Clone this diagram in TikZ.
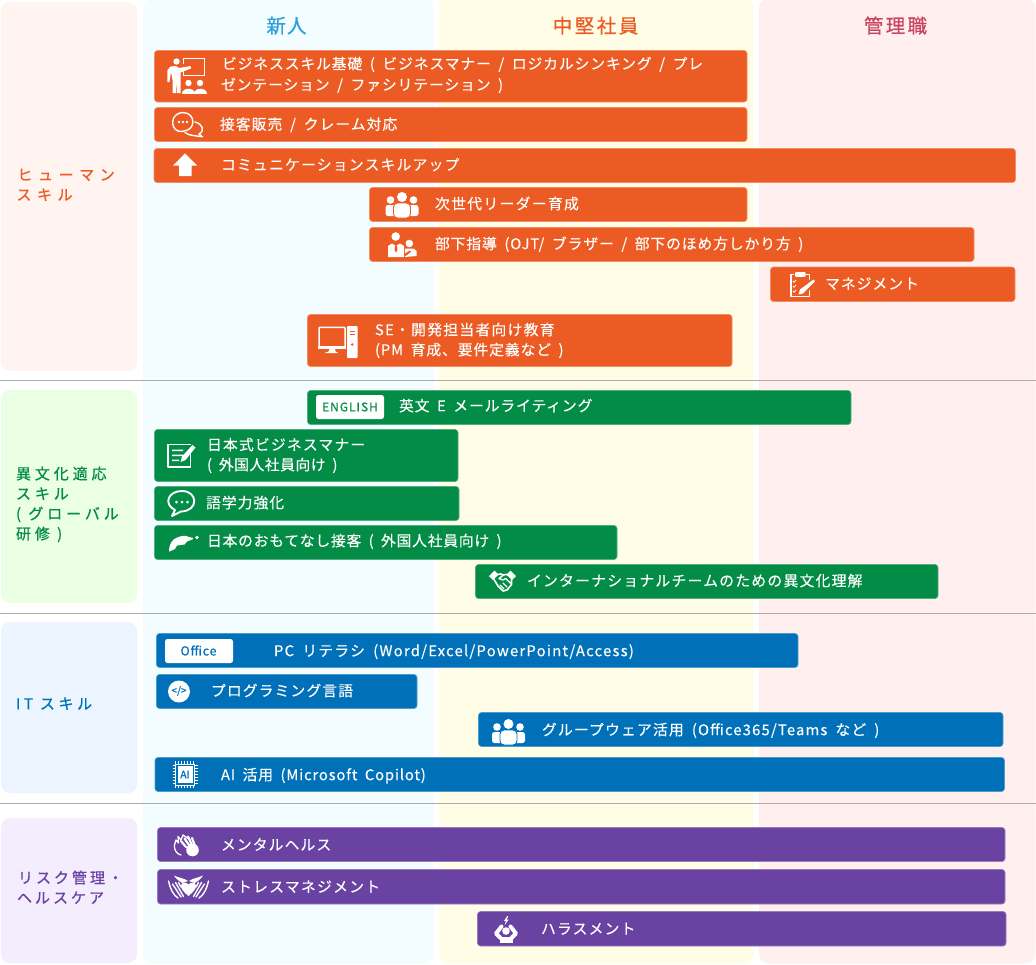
\documentclass[tikz,border=0pt]{standalone}
\usepackage{fontspec}
\setmainfont{Noto Sans CJK JP}[FakeBold=0.3,WordSpace=1.8]
\newfontfamily\jphead{Noto Sans CJK JP}[FakeBold=0.7]
\definecolor{cOrange}{HTML}{EB5B23}
\definecolor{cGreen}{HTML}{038C45}
\definecolor{cBlue}{HTML}{0071B9}
\definecolor{cPurple}{HTML}{6A42A2}
\definecolor{cHeadA}{HTML}{2FA0DC}
\definecolor{cHeadC}{HTML}{C8455F}
\definecolor{colA}{HTML}{F3FCFF}
\definecolor{colB}{HTML}{FFFDE6}
\definecolor{colC}{HTML}{FFF0EF}
\definecolor{rowA}{HTML}{FFF4F0}
\definecolor{rowB}{HTML}{EBFFE3}
\definecolor{rowC}{HTML}{ECF5FF}
\definecolor{rowD}{HTML}{F4EDFD}
\tikzset{
  boxbase/.style={inner sep=0pt,outer sep=0pt},
  panel/.style={boxbase,rounded corners=9pt},
  barbox/.style={boxbase,rounded corners=3pt,line width=0.6pt},
  whitebadge/.style={boxbase,rounded corners=2.5pt,fill=white},
  lab/.style={anchor=base west,inner sep=0pt,outer sep=0pt,text=white,font=\fontsize{14.8}{16}\selectfont},
  rowlab/.style={anchor=base west,inner sep=0pt,outer sep=0pt,font=\jphead\fontsize{15}{17}\selectfont},
  headlab/.style={anchor=base,inner sep=0pt,outer sep=0pt,font=\jphead\fontsize{19.5}{22}\selectfont},
  sepline/.style={draw=black!32,line width=1pt},
  wline/.style={draw=white,line width=1.3pt,line cap=round,line join=round},
}
% box from corners
\newcommand{\pbox}[6]{\node[#6,minimum width={(#4-#2)*1pt},minimum height={(#5-#3)*1pt}] (#1) at ({(#2+#4)/2},{(#3+#5)/2}) {};}
\newcommand{\bbox}[6]{\pbox{#1}{#2}{#3}{#4}{#5}{barbox,fill=#6,draw=#6!70!white}}
\newcommand{\lbl}[5]{\node[lab] (#1) at (#2,{#3+5.2}) {\addfontfeature{LetterSpace=#4}#5};}
\newcommand{\rlbl}[6]{\node[rowlab,text=#6] (#1) at (#2,{#3+5.3}) {\addfontfeature{LetterSpace=#4}#5};}
% people icon
\newcommand{\peopleicon}[3]{\begin{scope}[shift={(#1,#2)}]
  \fill[white] (-11.5,-4) circle (3.8) (11.5,-4) circle (3.8);
  \fill[white,rounded corners=2.5pt] (-16.5,1) rectangle (-5,12);
  \fill[white,rounded corners=2.5pt] (5,1) rectangle (16.5,12);
  \fill[white] (0,-7) circle (5);
  \filldraw[fill=white,draw=#3,line width=0.9pt,rounded corners=4pt] (-8.5,14) -- (-8.5,-1) -- (8.5,-1) -- (8.5,14) -- cycle;
\end{scope}}
\begin{document}
\begin{tikzpicture}[x=1pt,y=-1pt]
\useasboundingbox (0,0) rectangle (1036,964);
\fill[white] (0,0) rectangle (1036,964);
% columns
\pbox{colnew}{143}{-1}{433.5}{963.5}{panel,fill=colA}
\pbox{colmid}{439}{-1}{753.5}{963.5}{panel,fill=colB}
\pbox{colmgr}{759}{-1}{1035.5}{963.5}{panel,fill=colC}
% row cards
\pbox{rowhuman}{1}{2}{137}{371}{panel,fill=rowA}
\pbox{rowcross}{1}{390}{137}{603}{panel,fill=rowB}
\pbox{rowit}{1}{622}{137}{793}{panel,fill=rowC}
\pbox{rowrisk}{1}{818}{137}{963}{panel,fill=rowD}
% separators
\coordinate (sa1) at (0,380.5); \coordinate (sa2) at (1036,380.5);
\coordinate (sb1) at (0,613.5); \coordinate (sb2) at (1036,613.5);
\coordinate (sc1) at (0,803.5); \coordinate (sc2) at (1036,803.5);
\draw[sepline] (sa1) -- (sa2);
\draw[sepline] (sb1) -- (sb2);
\draw[sepline] (sc1) -- (sc2);
% headers
\node[headlab,text=cHeadA] (hnew) at (286.5,33) {\addfontfeature{LetterSpace=6}新人};
\node[headlab,text=cOrange] (hmid) at (595.5,33) {\addfontfeature{LetterSpace=13}中堅社員};
\node[headlab,text=cHeadC] (hmgr) at (895.5,33) {\addfontfeature{LetterSpace=12}管理職};
% row labels
\rlbl{ra}{17.5}{175}{37}{ヒューマン}{cOrange}
\rlbl{rb}{16.5}{195}{37}{スキル}{cOrange}
\rlbl{rc}{16}{474}{26}{異文化適応}{cGreen}
\rlbl{rd}{16}{494}{26}{スキル}{cGreen}
\rlbl{re}{16}{514}{26}{( グローバル}{cGreen}
\rlbl{rf}{16}{534}{26}{研修 )}{cGreen}
\rlbl{rg}{16}{704}{24}{IT スキル}{cBlue}
\rlbl{rh}{18}{878}{20}{リスク管理・}{cPurple}
\rlbl{ri}{17}{898}{20}{ヘルスケア}{cPurple}
% orange bars
\bbox{oa}{154.5}{50.5}{747}{102}{cOrange}
\bbox{ob}{154.5}{107.5}{747}{141.5}{cOrange}
\bbox{oc}{154}{148.5}{1015.5}{182.5}{cOrange}
\bbox{od}{369.5}{187.5}{747}{221.5}{cOrange}
\bbox{oe}{369.5}{227.5}{974}{261.5}{cOrange}
\bbox{of}{770.5}{267}{1015}{301.5}{cOrange}
\bbox{og}{307.5}{314.5}{732}{366.5}{cOrange}
% green bars
\bbox{ga}{307.5}{390.5}{851}{424.5}{cGreen}
\bbox{gb}{154.5}{429.5}{458}{481.5}{cGreen}
\bbox{gc}{154.5}{486.5}{459}{520.5}{cGreen}
\bbox{gd}{154.5}{525.5}{617}{559.5}{cGreen}
\bbox{ge}{475.5}{564.5}{938}{598.5}{cGreen}
% blue bars
\bbox{ba}{156.5}{633.5}{798}{667.5}{cBlue}
\bbox{bb}{156.5}{674.5}{417}{708.5}{cBlue}
\bbox{bc}{478.5}{712.5}{1003}{746.5}{cBlue}
\bbox{bd}{155}{757.5}{1004.5}{791.5}{cBlue}
% purple bars
\bbox{pa}{157.5}{827.5}{1005}{861.5}{cPurple}
\bbox{pb}{157.5}{869.5}{1005}{904}{cPurple}
\bbox{pc}{477.5}{911.5}{1006}{946}{cPurple}
% labels
\lbl{loa}{222}{64}{6}{ビジネススキル基礎 ( ビジネスマナー / ロジカルシンキング / プレ}
\lbl{lob}{221}{85}{6}{ゼンテーション / ファシリテーション )}
\lbl{loc}{220}{124.5}{7}{接客販売 / クレーム対応}
\lbl{lod}{221}{165}{8.2}{コミュニケーションスキルアップ}
\lbl{loe}{435}{204}{9}{次世代リーダー育成}
\lbl{lof}{435}{244}{6}{部下指導 (OJT/ ブラザー / 部下のほめ方しかり方 )}
\lbl{log}{825}{284}{7}{マネジメント}
\lbl{loh}{375}{330}{8.6}{SE・開発担当者向け教育}
\lbl{loi}{375}{350}{6}{(PM 育成、要件定義など )}
\lbl{lga}{399}{406}{6}{英文 E メールライティング}
\lbl{lgb}{207}{445}{8}{日本式ビジネスマナー}
\lbl{lgc}{207}{465}{3.5}{( 外国人社員向け )}
\lbl{lgd}{206}{503}{7}{語学力強化}
\lbl{lge}{207}{541}{5.2}{日本のおもてなし接客 ( 外国人社員向け )}
\lbl{lgf}{527}{581}{8.5}{インターナショナルチームのための異文化理解}
\lbl{lba}{274}{651}{8.5}{PC リテラシ (Word/Excel/PowerPoint/Access)}
\lbl{lbb}{211}{691}{7.5}{プログラミング言語}
\lbl{lbc}{542}{730}{8}{グループウェア活用 (Office365/Teams など )}
\lbl{lbd}{221}{775}{5.6}{AI 活用 (Microsoft Copilot)}
\lbl{lpa}{221}{845}{7.5}{メンタルヘルス}
\lbl{lpb}{221}{887}{8.7}{ストレスマネジメント}
\lbl{lpc}{541}{929}{8}{ハラスメント}
% --- badges
\pbox{engb}{316}{395}{384}{419}{whitebadge}
\node[inner sep=0pt,text=cGreen,font=\jphead\fontsize{12}{14}\selectfont] (engt) at (350,407) {\addfontfeature{LetterSpace=8}ENGLISH};
\pbox{offb}{165}{639}{233}{663}{whitebadge}
\node[inner sep=0pt,text=cBlue,font=\jphead\fontsize{12.5}{14}\selectfont] (offt) at (198.5,650.5) {\addfontfeature{LetterSpace=6}Office};
% --- teacher icon
\fill[white] (176.5,61.5) circle (3.2);
\fill[white,line join=round] (170.5,66.5) -- (176,66) -- (179,68) -- (190.5,66) -- (191,68.5) -- (180.5,72.5) -- (180.5,93) -- (177,93) -- (176.6,80) -- (176,93) -- (172.5,93) -- (172.5,80) -- (171,72) -- (169.5,82) -- (167.3,82) -- (167.5,70) -- cycle;
\draw[white,line width=1.3pt] (183.6,58.2) -- (204.6,58.2) -- (204.6,75.4) -- (183.6,75.4) -- (183.6,70.5);
\draw[white,line width=1.3pt] (183.6,58.2) -- (183.6,64);
\fill[white] (188.5,83) circle (3.2) (200,83) circle (3.2);
\fill[white] (182,93.5) .. controls (182,87) and (195,87) .. (195,93.5) -- cycle;
\fill[white] (193.5,93.5) .. controls (193.5,87) and (206.5,87) .. (206.5,93.5) -- cycle;
% --- chat bubbles
\draw[wline,line width=1.4pt] (178,131) .. controls (170,128) and (170.5,113) .. (183,112.5) .. controls (196,113) and (196,130) .. (184,131) -- (181,131.5) -- cycle;
\fill[white] (179,122) circle (1.3) (183,122) circle (1.3) (187,122) circle (1.3);
\draw[wline,line width=1.4pt] (195,122) .. controls (203,124) and (205,131) .. (199,134) -- (202.5,136.8) -- (193,135.5) .. controls (190,135.2) and (187,134) .. (185,132.5);
% --- up arrow
\fill[white] (185,153.3) -- (197.3,165.7) -- (191.5,165.7) -- (191.5,176) -- (179,176) -- (179,165.7) -- (173,165.7) -- cycle;
% --- people
\peopleicon{402}{204}{cOrange}
\peopleicon{508.5}{731}{cBlue}
% --- boss icon
\fill[white] (395.7,236.5) circle (4.3) (409.3,243.5) circle (3.8);
\fill[white] (388,257) -- (388,246) -- (392,243.5) -- (396,246) -- (400,243.5) -- (404,246) -- (404,257) -- cycle;
\fill[cOrange] (395,245.5) -- (397,245.5) -- (397.5,250) -- (396,252.5) -- (394.5,250) -- cycle;
\fill[white] (405,248.5) -- (413.5,248.5) -- (416.7,251) -- (416.7,256) -- (405,257) -- cycle;
\fill[cOrange] (404,254) -- (410,250.5) -- (411,252) -- (405.5,256) -- cycle;
% --- clipboard
\draw[wline,line width=1.6pt] (793.5,274.5) -- (790.7,274.5) -- (790.7,296.5) -- (809.5,296.5) -- (809.5,291);
\draw[wline,line width=1.6pt] (806.5,274.5) -- (809.5,274.5) -- (809.5,279);
\fill[white,rounded corners=1pt] (795,272) rectangle (805.5,276.8);
\fill[white] (813.5,279.5) -- (815,281.3) -- (803,293.5) -- (798.5,294.5) -- (800,289.5) -- cycle;
\draw[white,line width=0.8pt] (793,281) -- (794,282.2) -- (796,280) (793,286) -- (794,287.2) -- (796,285) (793,291) -- (794,292.2) -- (796,290);
% --- PC icon
\draw[white,line width=1.5pt,rounded corners=1pt] (319,327.3) rectangle (345,347.5);
\fill[white] (318.3,345.5) rectangle (345.7,349);
\fill[white] (329.5,349) -- (335,349) -- (335.5,351.5) -- (338.5,353) -- (324.5,353) -- (328.5,351.5) -- cycle;
\fill[white,rounded corners=0.8pt] (347,326) rectangle (357.5,358);
\draw[cOrange,line width=0.9pt] (349.5,331) -- (355,331) (349.5,334) -- (355,334);
\fill[cOrange] (352.2,344.5) circle (1.4);
% --- note icon
\draw[wline,line width=1.9pt,line cap=butt] (190.5,449) -- (190.5,467) -- (168,467) -- (168,444.5) -- (190.5,444.5);
\fill[white] (172,449.5) rectangle (183,451.2) (172,454.5) rectangle (184,456.2) (172,459.5) rectangle (179,461.2);
\fill[white] (192.5,445) -- (195.5,447.5) -- (185.5,460) -- (180.5,462) -- (182,456.5) -- cycle;
% --- chat green
\draw[wline,line width=1.9pt] (175,510) .. controls (163,504) and (168,491) .. (182,491) .. controls (198,491) and (199,511) .. (181,511.5) -- (172,516) -- cycle;
\fill[white] (176.5,502) circle (1.5) (182,502) circle (1.5) (187.5,502) circle (1.5);
% --- hand with leaf
\fill[white] (169,551.7) .. controls (169,544) and (172,540) .. (176,538) .. controls (181,535.5) and (186,535) .. (189,537) -- (192.8,537.8) -- (192.8,539.2) -- (187,541.5) -- (184.5,544.5) -- (177,545.5) -- (175,549) -- cycle;
\fill[white] (197,537.4) circle (1.9);
% --- handshake
\fill[white] (489,576) -- (494.5,570.5) -- (498.5,574.5) -- (493,580) -- cycle;
\fill[white] (516,576) -- (510.5,570.5) -- (506.5,574.5) -- (512,580) -- cycle;
\draw[wline,line width=1.6pt] (497,574.5) -- (501,574) -- (503.5,575) -- (506,574.5) -- (509,575);
\draw[wline,line width=1.6pt] (494,579.5) -- (498,586) -- (503,591) -- (507,590) -- (511.5,584.5) -- (511.5,580);
\draw[wline,line width=1.4pt] (503.5,575) -- (499,578.5) -- (503,580) -- (505.5,578.5) -- (511,583.5);
\draw[wline,line width=1.2pt] (500,585) -- (504,589) (503,583) -- (507,587);
% --- code icon
\fill[white] (179,691.5) circle (11);
\node[inner sep=0pt,text=cBlue,font=\jphead\fontsize{10}{11}\selectfont] (codet) at (179,691) {</>};
% --- AI chip
\foreach \k in {0,...,6} {
  \draw[white,line width=0.8pt] ({175.5+\k*3},761) -- ({175.5+\k*3},788);
  \draw[white,line width=0.8pt] (172.5,{765+\k*3}) -- (197.5,{765+\k*3});
}
\fill[cBlue] (175,763.5) rectangle (195,785.5);
\draw[white,line width=1pt] (175.5,764) rectangle (194.5,785);
\fill[white] (177.5,766) rectangle (192.5,783);
\node[inner sep=0pt,text=cBlue,font=\jphead\fontsize{10.5}{12}\selectfont] (aichip) at (185,774.5) {AI};
% --- clapping hands
\draw[wline,line width=1.3pt] (181,855) .. controls (176,854) and (174,849) .. (174.5,845) -- (176,840) -- (178.5,843) -- (178,836.5) -- (181,840) -- (183,835) -- (188,838.5);
\fill[white] (192.5,850) circle (6.3);
\foreach \a/\b/\c/\d in {186/847/181/841, 189/845/184.5/838.5, 192/845/188/836.5, 195/846/192/838} {
  \draw[white,line width=2.2pt,line cap=round] (\a,\b) -- (\c,\d);
}
% --- caring hands
\fill[white] (188.5,896) .. controls (184,892) and (180.5,889) .. (181,885.5) .. controls (181.5,882) and (186,881.5) .. (188.5,884.5) .. controls (191,881.5) and (195.5,882) .. (196,885.5) .. controls (196.5,889) and (193,892) .. (188.5,896) -- cycle;
\fill[white] (174,875.5) .. controls (179,878) and (184,878) .. (188,881) -- (182,883) .. controls (179,881) and (176,879) .. cycle;
\fill[white] (203,875.5) .. controls (198,878) and (193,878) .. (189,881) -- (195,883) .. controls (198,881) and (201,879) .. cycle;
\draw[wline,line width=1.4pt] (168.5,881) .. controls (170,888) and (173,895) .. (178,898)
  (172.5,884) -- (181,897) (175.5,882.5) -- (183.5,896.5) (178.5,882.5) -- (181,887)
  (208.5,881) .. controls (207,888) and (204,895) .. (199,898)
  (204.5,884) -- (196,897) (201.5,882.5) -- (193.5,896.5) (198.5,882.5) -- (196,887);
% --- harassment
\fill[white] (507.2,916) -- (504,921) -- (506,921) -- (504.5,925.2) -- (508.8,919.5) -- (506.7,919.5) -- (508.3,916) -- cycle;
\draw[wline,line width=4pt] (501.5,926.5) -- (496,933.5) -- (500.5,938);
\draw[wline,line width=4pt] (510.5,926.5) -- (516,933.5) -- (511.5,938);
\fill[white] (506,931) circle (3.8);
\fill[white] (499.5,936.5) rectangle (512.5,942.8);
\end{tikzpicture}
\end{document}
